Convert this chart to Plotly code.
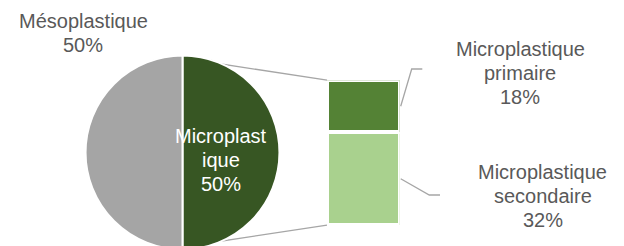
import plotly.graph_objects as go

# ---- data ----
pie_labels = ["Microplastique", "Mésoplastique"]
pie_values = [50, 50]
pie_colors = ["#375623", "#A5A5A5"]

bar_labels = ["Microplastique secondaire", "Microplastique primaire"]
bar_values = [32, 18]
bar_colors = ["#A9D18E", "#548235"]

W, H = 624, 246
OFF = 8  # page body margin
TXT = "#595959"
LINE = "#A6A6A6"
FONT = "Liberation Sans, Arial, sans-serif"
FS = 20


def px(xp):
    return (xp - OFF) / W


def py(yp):
    return 1 - (yp - OFF) / H


# layout geometry (screen pixels)
pie_dom_x = [85.5, 279.5]
pie_dom_y = [55.5, 249.5]
bar_dom_x = [327.0, 399.7]
bar_dom_y = [80.2, 225.2]
total = sum(bar_values)

fig = go.Figure()
fig.add_trace(go.Pie(
    labels=pie_labels, values=pie_values, sort=False, direction="clockwise",
    rotation=0, textinfo="none", hoverinfo="label+percent",
    marker=dict(colors=pie_colors, line=dict(color="white", width=2)),
    domain=dict(x=[px(pie_dom_x[0]), px(pie_dom_x[1])],
                y=[py(pie_dom_y[1]), py(pie_dom_y[0])]),
    showlegend=False,
))

for lab, val, col in zip(bar_labels, bar_values, bar_colors):
    fig.add_trace(go.Bar(
        x=[0], y=[val], width=[1], name=lab,
        marker=dict(color=col, line=dict(color="white", width=4)),
        showlegend=False, xaxis="x", yaxis="y",
    ))


def bar_to_px(xd, yd):
    xpx = bar_dom_x[0] + (xd + 0.5) * (bar_dom_x[1] - bar_dom_x[0])
    ypx = bar_dom_y[1] - yd / total * (bar_dom_y[1] - bar_dom_y[0])
    return xpx, ypx


# connector lines between pie and bar
pie_cx = (pie_dom_x[0] + pie_dom_x[1]) / 2
pie_cy = (pie_dom_y[0] + pie_dom_y[1]) / 2
pie_r = 94.5
shapes = []
for yd, sgn in [(total, -1), (0, 1)]:
    bx, by = bar_to_px(-0.5, yd)
    shapes.append(dict(type="line", xref="paper", yref="paper", layer="below",
                       x0=px(pie_cx), y0=py(pie_cy + sgn * pie_r),
                       x1=px(bx), y1=py(by), line=dict(color=LINE, width=1.3)))

# leader lines for bar labels
elbows = {
    "Microplastique secondaire": [(429.3, 195.0), (440.0, 195.0)],
    "Microplastique primaire": [(411.7, 69.0), (422.3, 69.0)],
}
cum = 0
for lab, val in zip(bar_labels, bar_values):
    sx, sy = bar_to_px(0.5, cum + val / 2)
    sx += 1.0
    pts = [(sx, sy)] + elbows[lab]
    path = "M " + " L ".join(f"{px(a)},{py(b)}" for a, b in pts)
    shapes.append(dict(type="path", xref="paper", yref="paper", path=path,
                       line=dict(color=LINE, width=1.3)))
    cum += val

annotations = []


def add_label(lines, cx, cy0, color=TXT, step=24):
    for i, t in enumerate(lines):
        annotations.append(dict(
            text=t, x=px(cx), y=py(cy0 + i * step), xref="paper", yref="paper",
            xanchor="center", yanchor="middle", showarrow=False,
            font=dict(family=FONT, size=FS, color=color)))


def pct(v):
    return f"{round(v / sum(pie_values) * 100)}%"


add_label([pie_labels[1], pct(pie_values[1])], 83, 21)
add_label(["Microplast", "ique", pct(pie_values[0])], 221, 136, color="white")
add_label(["Microplastique", "primaire", pct(bar_values[1])], 520, 48.5)
add_label(["Microplastique", "secondaire", pct(bar_values[0])], 542.5, 171.5)

fig.update_layout(
    width=W, height=H, margin=dict(l=0, r=0, t=0, b=0),
    paper_bgcolor="white", plot_bgcolor="rgba(0,0,0,0)",
    barmode="stack", bargap=0,
    xaxis=dict(domain=[px(bar_dom_x[0]), px(bar_dom_x[1])], range=[-0.5, 0.5],
               visible=False, fixedrange=True),
    yaxis=dict(domain=[py(bar_dom_y[1]), py(bar_dom_y[0])], range=[0, total],
               visible=False, fixedrange=True),
    shapes=shapes, annotations=annotations,
)

fig.write_html("out.html")
